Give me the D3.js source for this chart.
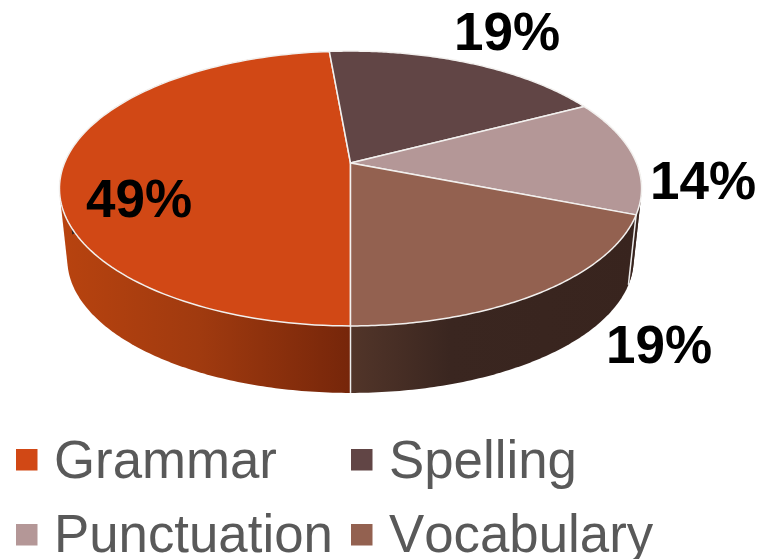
<!DOCTYPE html>
<html>
<head>
<meta charset="utf-8">
<script src="https://cdn.jsdelivr.net/npm/d3@7"></script>
<style>
html,body{margin:0;padding:0;background:#fff;overflow:hidden}
svg{display:block}
text{font-family:"Liberation Sans",Arial,sans-serif;font-kerning:none}
</style>
</head>
<body>
<script>
const categories = ["Grammar", "Spelling", "Punctuation", "Vocabulary"];
const values = [48.7, 18.8, 13.6, 19.1];
const colors = ["#D14815", "#614545", "#B49797", "#936150"];

const W = 759, H = 559;
const svg = d3.select("body").append("svg").attr("width", W).attr("height", H);
const defs = svg.append("defs");

// perspective projection of the pie's unit circle on screen
const persp = -0.1855, topGeom = {xc: 350.5, yc: 163, D: 286, A: 132.7};
const shrink = 0.973;
const botGeom = {xc: 350.5, yc: 393 - 163 * shrink, D: 286 * shrink, A: 132.7 * shrink};
function project(theta, g) {
  const u = Math.sin(theta), v = -Math.cos(theta), w = 1 + persp * v;
  return [g.xc + g.D * u / w, g.yc + g.A * v / w];
}
function arcPts(a0, a1, g) {
  return d3.range(0, 121).map(i => project(a0 + (a1 - a0) * i / 120, g));
}

const pie = d3.pie().value(d => d).sort(null).startAngle(Math.PI).endAngle(3 * Math.PI);
const slices = pie(values);
const line = d3.line();

// side gradients, one per slice
const sideStops = [
  [[60, "#B8430F"], [200, "#A03A0F"], [350, "#76260A"]],
  [[60, "#3A2620"], [350, "#3A2620"]],
  [[600, "#3F2A24"], [640, "#3F2A24"]],
  [[351, "#523529"], [450, "#3A2620"], [640, "#38241E"]]
];
sideStops.forEach((stops, i) => {
  const x0 = stops[0][0], x1 = stops[stops.length - 1][0];
  const g = defs.append("linearGradient").attr("id", "side" + i)
    .attr("gradientUnits", "userSpaceOnUse")
    .attr("x1", x0).attr("x2", x1).attr("y1", 0).attr("y2", 0);
  stops.forEach(s => g.append("stop")
    .attr("offset", (s[0] - x0) / (x1 - x0)).attr("stop-color", s[1]));
});

// extruded sides: only the front half of the rim can be seen. The wall of each
// slice is the hull of its top and bottom rim so the silhouette stays tangent.
const frontStart = Math.PI / 2, frontEnd = 3 * Math.PI / 2;
function wallPath(d) {
  const a0 = Math.max(d.startAngle % (2 * Math.PI), frontStart);
  const a1 = Math.min(d.endAngle > 2 * Math.PI ? frontEnd : d.endAngle, frontEnd);
  if (d.startAngle >= 2 * Math.PI - 1e-9 && d.endAngle > 2 * Math.PI) {
    // slice wraps through the top; its visible wall is nothing or the right flank
    const s = d.startAngle - 2 * Math.PI, e = d.endAngle - 2 * Math.PI;
    if (e <= frontStart) return null;
    return "M" + d3.polygonHull(arcPts(frontStart, e, topGeom).concat(arcPts(frontStart, e, botGeom))).join("L") + "Z";
  }
  return "M" + d3.polygonHull(arcPts(a0, a1, topGeom).concat(arcPts(a0, a1, botGeom))).join("L") + "Z";
}
svg.append("g").selectAll("path").data(slices).join("path")
  .attr("d", wallPath)
  .attr("fill", (d, i) => `url(#side${i})`);

// white seams on the side wall
svg.append("g").selectAll("line").data(slices).join("line")
  .attr("x1", d => project(d.startAngle, topGeom)[0])
  .attr("y1", d => project(d.startAngle, topGeom)[1])
  .attr("x2", d => project(d.startAngle, botGeom)[0])
  .attr("y2", d => project(d.startAngle, botGeom)[1])
  .attr("stroke", "#EDEDED").attr("stroke-width", 1.5);

// top faces
svg.append("g").selectAll("path").data(slices).join("path")
  .attr("d", d => line([[topGeom.xc, topGeom.yc]].concat(arcPts(d.startAngle, d.endAngle, topGeom))) + "Z")
  .attr("fill", (d, i) => colors[i])
  .attr("stroke", "#F2F0EE").attr("stroke-width", 1.5).attr("stroke-linejoin", "round");

// data labels
const labelAnchors = [[139, 217], [507, 50], [703, 199], [659, 363]];
svg.append("g").selectAll("text").data(values).join("text")
  .attr("x", (d, i) => labelAnchors[i][0])
  .attr("y", (d, i) => labelAnchors[i][1])
  .attr("text-anchor", "middle")
  .attr("font-size", 53).attr("font-weight", 700).attr("fill", "#000")
  .text(d => d3.format(".0f")(d) + "%");

// legend
const legendAnchors = [[16, 54, 449, 478], [351, 389, 449, 478], [16, 54, 524, 552], [351, 389, 524, 552]];
const legend = svg.append("g").selectAll("g").data(categories).join("g");
legend.append("rect")
  .attr("x", (d, i) => legendAnchors[i][0])
  .attr("y", (d, i) => legendAnchors[i][2])
  .attr("width", 21.5).attr("height", 21.5)
  .attr("fill", (d, i) => colors[i]);
legend.append("text")
  .attr("x", (d, i) => legendAnchors[i][1])
  .attr("y", (d, i) => legendAnchors[i][3])
  .attr("font-size", 52.8).attr("fill", "#595959")
  .text(d => d);
</script>
</body>
</html>
